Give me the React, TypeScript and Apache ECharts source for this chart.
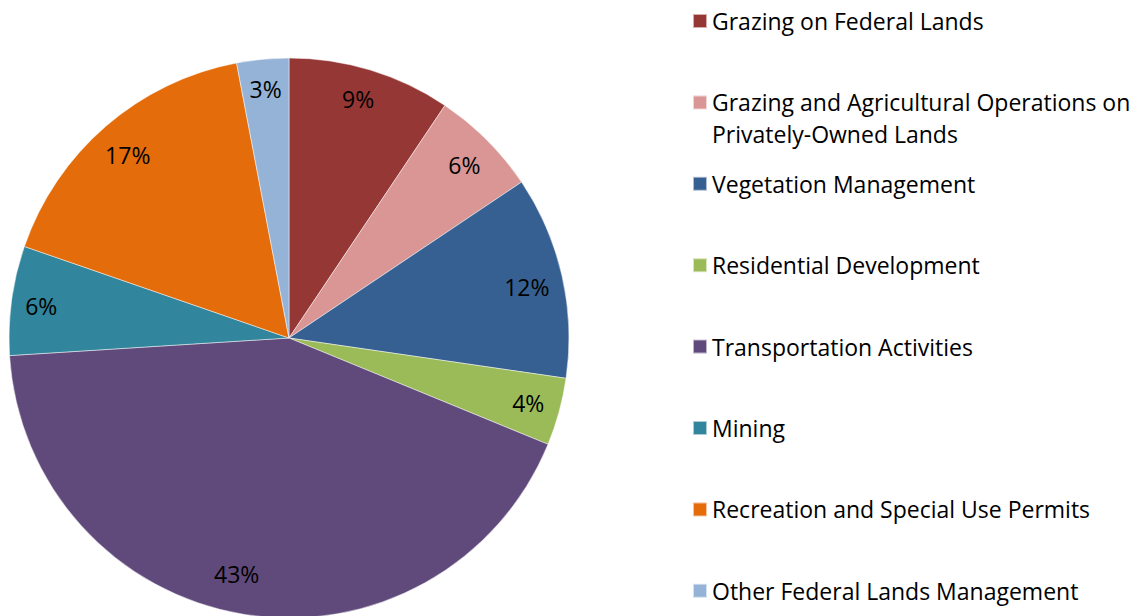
import React, { useEffect, useRef } from "react";
import * as echarts from "echarts";

const categories = [
  "Grazing on Federal Lands",
  "Grazing and Agricultural Operations on Privately-Owned Lands",
  "Vegetation Management",
  "Residential Development",
  "Transportation Activities",
  "Mining",
  "Recreation and Special Use Permits",
  "Other Federal Lands Management",
];
const legendLabels = [
  "Grazing on Federal Lands",
  " \nGrazing and Agricultural Operations on\nPrivately-Owned Lands",
  "Vegetation Management",
  "Residential Development",
  "Transportation Activities",
  "Mining",
  "Recreation and Special Use Permits",
  "Other Federal Lands Management",
];
const values = [9.4, 6.2, 11.7, 3.9, 42.8, 6.3, 16.7, 3.0];
const colors = ["#953735", "#D99694", "#376092", "#9BBB59", "#604A7B", "#31859C", "#E46C0A", "#95B3D7"];
const labelOffsets = [[-3, -2], [0, 2], [-4, 4], [0, 0], [-12, -9], [-2, 1], [1, 5], [0, -2]];

const FONT = "Open Sans";
const FS = 23;
const LH = 32;

export default function App() {
  const ref = useRef<HTMLDivElement>(null);
  useEffect(() => {
    if (!ref.current) return;
    const chart = echarts.init(ref.current, null, { renderer: "svg" });
    const data = categories.map((name, i) => ({ name, value: values[i], itemStyle: { color: colors[i] } }));
    const legends = categories.map((name, i) => {
      const center = 21 + i * 81.4;
      const multi = legendLabels[i].includes("\n");
      return {
        orient: "vertical",
        left: 692,
        top: multi ? center - 1.5 * LH : center - LH / 2,
        padding: 0,
        itemWidth: 14,
        itemHeight: 14,
        icon: "rect",
        selectedMode: false,
        data: [name],
        formatter: () => legendLabels[i],
        textStyle: {
          fontFamily: FONT,
          fontSize: FS,
          color: "#000",
          lineHeight: LH,
        },
      };
    });
    chart.setOption({
      animation: false,
      legend: legends,
      series: [
        {
          type: "pie",
          center: [289, 338],
          radius: [0, 280],
          startAngle: 90,
          clockwise: true,
          label: { show: false },
          labelLine: { show: false },
          itemStyle: { borderColor: "rgba(255,255,255,0.6)", borderWidth: 0.8 },
          emphasis: { disabled: true },
          data,
        },
        {
          type: "pie",
          center: [289, 338],
          radius: [210, 280],
          startAngle: 90,
          clockwise: true,
          silent: true,
          itemStyle: { color: "transparent", borderWidth: 0 },
          label: {
            show: true,
            position: "inside",
            fontFamily: FONT,
            fontSize: FS,
            color: "#000",
            formatter: (p: any) => Math.round(p.percent) + "%",
          },
          labelLine: { show: false },
          emphasis: { disabled: true },
          data: categories.map((name, i) => ({
            name,
            value: values[i],
            itemStyle: { color: "transparent" },
            label: { offset: labelOffsets[i] },
          })),
        },
      ],
    });
    return () => chart.dispose();
  }, []);
  return <div ref={ref} style={{ width: 1143, height: 616, position: "absolute", left: 0, top: 0 }} />;
}
